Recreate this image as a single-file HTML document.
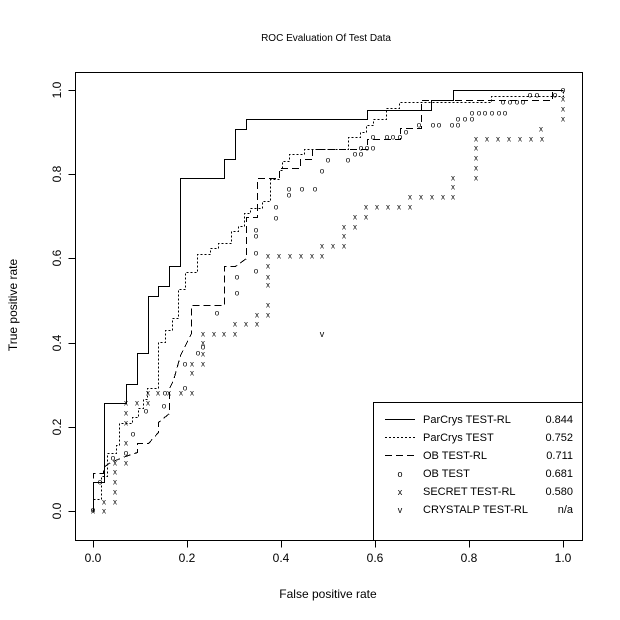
<!DOCTYPE html>
<html><head><style>body{margin:0;background:#fff}svg{display:block}text{font-family:"Liberation Sans",sans-serif;fill:#000}</style></head>
<body>
<svg width="620" height="620" xmlns="http://www.w3.org/2000/svg">
<rect width="620" height="620" fill="#fff"/>
<text x="326" y="41" font-size="10" text-anchor="middle">ROC Evaluation Of Test Data</text>
<rect x="75.5" y="72.5" width="507" height="468" fill="none" stroke="#000" shape-rendering="crispEdges"/>
<g stroke="#000" fill="none" shape-rendering="crispEdges" transform="translate(0.5,0.5)">
<path d="M93 540v7M187 540v7M281 540v7M375 540v7M469 540v7M563 540v7"/>
<path d="M75 511h-7M75 427h-7M75 343h-7M75 258h-7M75 174h-7M75 90h-7"/>
</g>
<g font-size="12" text-anchor="middle">
<text x="93" y="562">0.0</text><text x="187" y="562">0.2</text><text x="281" y="562">0.4</text><text x="375" y="562">0.6</text><text x="469" y="562">0.8</text><text x="563" y="562">1.0</text>
<text transform="translate(61,511) rotate(-90)">0.0</text>
<text transform="translate(61,427) rotate(-90)">0.2</text>
<text transform="translate(61,343) rotate(-90)">0.4</text>
<text transform="translate(61,258) rotate(-90)">0.6</text>
<text transform="translate(61,174) rotate(-90)">0.8</text>
<text transform="translate(61,90) rotate(-90)">1.0</text>
<text x="328" y="598">False positive rate</text>
<text transform="translate(17,305) rotate(-90)">True positive rate</text>
</g>
<g fill="none" stroke="#000" stroke-width="1" shape-rendering="crispEdges" transform="translate(0.5,0.5)">
<polyline points="93,511 93,482 104,482 104,403 126,403 126,384 137,384 137,353 148,353 148,296 158,296 158,286 169,286 169,266 180,266 180,178 224,178 224,159 235,159 235,129 246,129 246,119 367,119 367,110 431,110 431,100 453,100 453,90 563,90"/>
<polyline stroke-dasharray="2,2" points="93,511 93,499 101,499 101,476 107,476 107,453 116,453 116,445 119,445 119,423 132,423 132,417 138,417 138,408 143,408 143,399 147,399 147,388 158,388 158,342 165,342 165,330 172,330 172,318 178,318 178,289 185,289 185,272 197,272 197,254 210,254 210,248 218,248 218,243 231,243 231,231 238,231 238,226 244,226 244,213 250,213 250,208 262,208 262,201 270,201 270,179 279,179 279,170 282,170 282,161 289,161 289,154 304,154 304,149 348,149 348,137 360,137 360,132 366,132 366,125 373,125 373,119 386,119 386,108 399,108 399,102 491,102 491,96 563,96 563,90"/>
<polyline stroke-dasharray="7,4" points="93,511 93,473 103,473 103,467 110,462 125,456 137,452 137,443 148,443 158,432 158,422 169,413 169,388 173,380 180,355 191,333 191,305 224,305 224,266 235,266 246,258 246,217 257,217 257,178 279,178 279,168 300,168 300,159 312,159 312,149 367,149 367,139 400,139 400,128 421,128 421,100 552,100 552,90 563,90"/>
</g>
<g font-size="8" text-anchor="middle" dominant-baseline="central">
<text x="93" y="510">o</text><text x="100" y="482">o</text><text x="113" y="458">o</text><text x="126" y="453">o</text><text x="133" y="434">o</text><text x="146" y="411">o</text><text x="164" y="406">o</text><text x="165" y="393">o</text><text x="185" y="388">o</text><text x="185" y="364">o</text><text x="198" y="353">o</text><text x="203" y="347">o</text><text x="217" y="313">o</text><text x="237" y="293">o</text><text x="237" y="277">o</text><text x="256" y="271">o</text><text x="256" y="253">o</text><text x="256" y="236">o</text><text x="256" y="230">o</text><text x="276" y="218">o</text><text x="276" y="207">o</text><text x="289" y="195">o</text><text x="289" y="189">o</text><text x="302" y="189">o</text><text x="315" y="189">o</text><text x="322" y="171">o</text><text x="328" y="160">o</text><text x="348" y="160">o</text><text x="355" y="154">o</text><text x="361" y="154">o</text><text x="361" y="148">o</text><text x="367" y="148">o</text><text x="373" y="148">o</text><text x="373" y="137">o</text><text x="387" y="137">o</text><text x="393" y="137">o</text><text x="400" y="137">o</text><text x="406" y="132">o</text><text x="419" y="125">o</text><text x="433" y="125">o</text><text x="439" y="125">o</text><text x="452" y="125">o</text><text x="458" y="125">o</text><text x="458" y="119">o</text><text x="465" y="119">o</text><text x="472" y="119">o</text><text x="472" y="113">o</text><text x="479" y="113">o</text><text x="485" y="113">o</text><text x="492" y="113">o</text><text x="499" y="113">o</text><text x="505" y="113">o</text><text x="503" y="102">o</text><text x="510" y="102">o</text><text x="517" y="102">o</text><text x="523" y="102">o</text><text x="530" y="95">o</text><text x="537" y="95">o</text><text x="555" y="95">o</text><text x="563" y="90">o</text>
</g>
<g font-size="8" text-anchor="middle" dominant-baseline="central">
<text x="93" y="511">x</text><text x="104" y="511">x</text><text x="104" y="502">x</text><text x="115" y="502">x</text><text x="115" y="492">x</text><text x="115" y="482">x</text><text x="115" y="472">x</text><text x="115" y="463">x</text><text x="126" y="463">x</text><text x="126" y="443">x</text><text x="126" y="423">x</text><text x="126" y="413">x</text><text x="126" y="403">x</text><text x="137" y="403">x</text><text x="148" y="403">x</text><text x="148" y="393">x</text><text x="158" y="393">x</text><text x="169" y="393">x</text><text x="181" y="393">x</text><text x="192" y="393">x</text><text x="192" y="373">x</text><text x="192" y="364">x</text><text x="203" y="364">x</text><text x="203" y="354">x</text><text x="203" y="343">x</text><text x="203" y="334">x</text><text x="214" y="334">x</text><text x="224" y="334">x</text><text x="235" y="334">x</text><text x="235" y="324">x</text><text x="246" y="324">x</text><text x="257" y="324">x</text><text x="257" y="315">x</text><text x="268" y="315">x</text><text x="268" y="305">x</text><text x="268" y="285">x</text><text x="268" y="277">x</text><text x="268" y="266">x</text><text x="268" y="256">x</text><text x="279" y="256">x</text><text x="290" y="256">x</text><text x="301" y="256">x</text><text x="312" y="256">x</text><text x="322" y="256">x</text><text x="322" y="246">x</text><text x="333" y="246">x</text><text x="344" y="246">x</text><text x="344" y="236">x</text><text x="344" y="227">x</text><text x="355" y="227">x</text><text x="355" y="217">x</text><text x="366" y="217">x</text><text x="366" y="207">x</text><text x="377" y="207">x</text><text x="388" y="207">x</text><text x="399" y="207">x</text><text x="410" y="207">x</text><text x="410" y="197">x</text><text x="421" y="197">x</text><text x="432" y="197">x</text><text x="443" y="197">x</text><text x="453" y="197">x</text><text x="453" y="187">x</text><text x="453" y="178">x</text><text x="476" y="178">x</text><text x="476" y="168">x</text><text x="476" y="158">x</text><text x="476" y="148">x</text><text x="476" y="139">x</text><text x="487" y="139">x</text><text x="498" y="139">x</text><text x="509" y="139">x</text><text x="520" y="139">x</text><text x="531" y="139">x</text><text x="542" y="139">x</text><text x="541" y="129">x</text><text x="563" y="119">x</text><text x="563" y="109">x</text><text x="563" y="99">x</text>
<text x="322" y="334" font-size="9">v</text>
</g>
<rect x="373.5" y="402.5" width="209" height="138" fill="#fff" stroke="#000" shape-rendering="crispEdges"/>
<g stroke="#000" shape-rendering="crispEdges" transform="translate(0,0.5)">
<line x1="385" y1="419" x2="415" y2="419"/>
<line x1="385" y1="437" x2="415" y2="437" stroke-dasharray="2,2"/>
<line x1="385" y1="455" x2="415" y2="455" stroke-dasharray="7,4"/>
</g>
<g font-size="11">
<text x="400" y="477" text-anchor="middle" font-size="9">o</text>
<text x="400" y="495" text-anchor="middle" font-size="9">x</text>
<text x="400" y="513" text-anchor="middle" font-size="9">v</text>
<text x="423" y="423">ParCrys TEST-RL</text><text x="573" y="423" text-anchor="end">0.844</text>
<text x="423" y="441">ParCrys TEST</text><text x="573" y="441" text-anchor="end">0.752</text>
<text x="423" y="459">OB TEST-RL</text><text x="573" y="459" text-anchor="end">0.711</text>
<text x="423" y="477">OB TEST</text><text x="573" y="477" text-anchor="end">0.681</text>
<text x="423" y="495">SECRET TEST-RL</text><text x="573" y="495" text-anchor="end">0.580</text>
<text x="423" y="513">CRYSTALP TEST-RL</text><text x="573" y="513" text-anchor="end">n/a</text>
</g>
</svg>
</body></html>
